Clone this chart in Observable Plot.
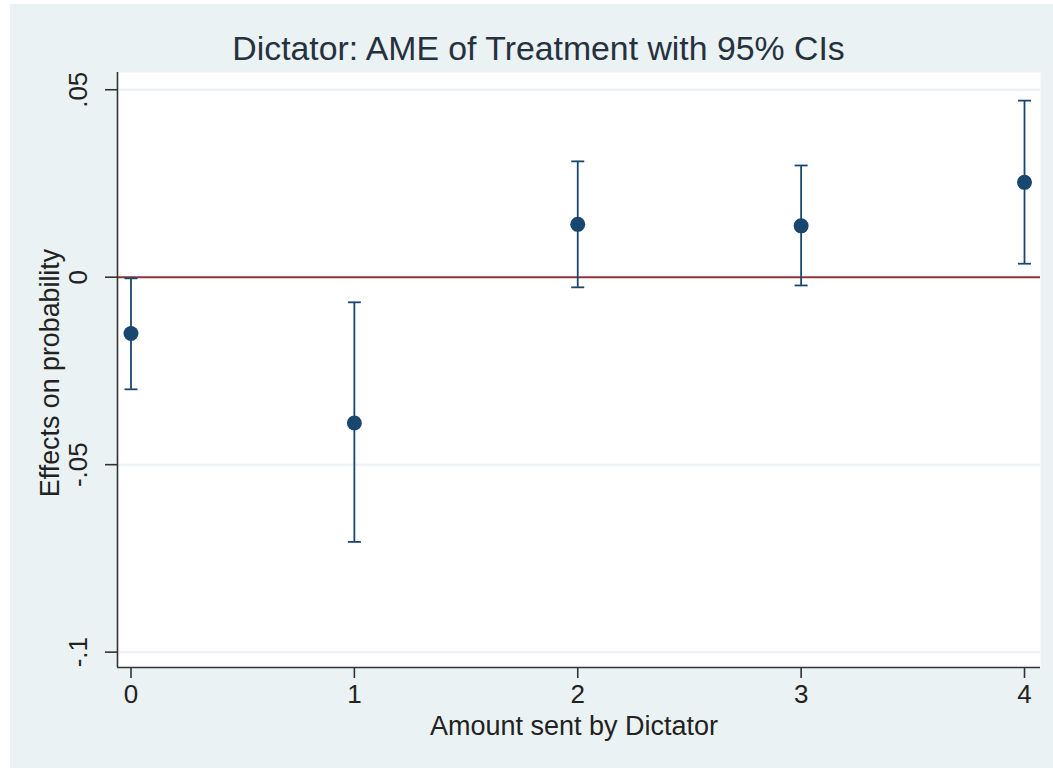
<!DOCTYPE html>
<html>
<head>
<meta charset="utf-8">
<script src="https://cdn.jsdelivr.net/npm/d3@7"></script>
<script src="https://cdn.jsdelivr.net/npm/@observablehq/plot@0.6"></script>
<style>
  html, body { margin: 0; padding: 0; background: #ffffff; }
  #chart { position: absolute; left: 10px; top: 4px; }
  #chart svg { display: block; background: #EAF2F3; }
</style>
</head>
<body>
<div id="chart"></div>
<script>
// ---- data ----
const amounts   = [0, 1, 2, 3, 4];
const estimates = [-0.0150, -0.0389, 0.0141, 0.0137, 0.0253];
const lowers    = [-0.0299, -0.0706, -0.0027, -0.0022, 0.0036];
const uppers    = [-0.0003, -0.0067, 0.0309, 0.0298, 0.0471];
const yTicks    = [-0.1, -0.05, 0, 0.05];
const xTicks    = [0, 1, 2, 3, 4];
const titleText = "Dictator: AME of Treatment with 95% CIs";
const xLabel    = "Amount sent by Dictator";
const yLabel    = "Effects on probability";

const rows = amounts.map((a, i) => ({amount: a, est: estimates[i], lo: lowers[i], hi: uppers[i]}));
const xDomain = [-0.0604, 4.0716];
const yDomain = [-0.1041, 0.0546];
const fmt = v => v === 0 ? "0" : (v < 0 ? "-" : "") + String(Math.abs(v)).replace(/^0/, "");

const navy = "#1A476F";
const font = "Liberation Sans, Arial, Helvetica, sans-serif";

// horizontal cap symbol for error bars
const capSymbol = {
  draw(context, size) {
    const r = Math.sqrt(size / Math.PI);
    context.moveTo(-r, 0);
    context.lineTo(r, 0);
  }
};

const chart = Plot.plot({
  width: 1043,
  height: 764,
  marginLeft: 107,
  marginRight: 13,
  marginTop: 68,
  marginBottom: 101,
  style: {fontFamily: font, background: "#EAF2F3", overflow: "visible"},
  x: {domain: xDomain, label: null},
  y: {domain: yDomain, label: null},
  marks: [
    Plot.frame({fill: "white", stroke: null}),
    // grid lines
    Plot.ruleY(yTicks.filter(d => d !== 0), {stroke: "#EAF2F3", strokeWidth: 2}),
    // zero line
    Plot.ruleY([0], {stroke: "#90353B", strokeWidth: 2}),
    // axis lines
    Plot.ruleX([xDomain[0]], {stroke: "#333", strokeWidth: 1.6}),
    Plot.ruleY([yDomain[0]], {stroke: "#333", strokeWidth: 1.6}),
    // axes
    Plot.axisX({ticks: xTicks, tickSize: 11, tickPadding: 6, fontSize: 26, tickFormat: d => String(d),
                stroke: "#333", strokeWidth: 1.6, color: "#222", label: null}),
    Plot.axisY({ticks: yTicks, tickSize: 12, fontSize: 26, tickFormat: () => "",
                stroke: "#333", strokeWidth: 1.6, label: null}),
    Plot.text(yTicks, {y: d => d, text: fmt, frameAnchor: "left", dx: -31, rotate: -90,
                       fontSize: 26, fill: "#222", textAnchor: "middle", lineAnchor: "bottom"}),
    // error bars
    Plot.ruleX(rows, {x: "amount", y1: "lo", y2: "hi", stroke: navy, strokeWidth: 1.8}),
    Plot.dot(rows, {x: "amount", y: "lo", symbol: capSymbol, r: 6.5, stroke: navy, strokeWidth: 1.8, fill: "none"}),
    Plot.dot(rows, {x: "amount", y: "hi", symbol: capSymbol, r: 6.5, stroke: navy, strokeWidth: 1.8, fill: "none"}),
    // point estimates
    Plot.dot(rows, {x: "amount", y: "est", r: 7.5, fill: navy, stroke: null}),
    // titles
    Plot.text([titleText], {frameAnchor: "top-left", dx: 421, dy: -13, fontSize: 33.8, fill: "#26313f",
                            textAnchor: "middle", lineAnchor: "bottom"}),
    Plot.text([xLabel], {frameAnchor: "bottom", dx: -5, dy: 67, fontSize: 27, fill: "#222",
                         textAnchor: "middle", lineAnchor: "bottom"}),
    Plot.text([yLabel], {frameAnchor: "left", dx: -59, dy: 3, rotate: -90, fontSize: 26.8, fill: "#222",
                         textAnchor: "middle", lineAnchor: "bottom"})
  ]
});
document.getElementById("chart").appendChild(chart);
</script>
</body>
</html>
